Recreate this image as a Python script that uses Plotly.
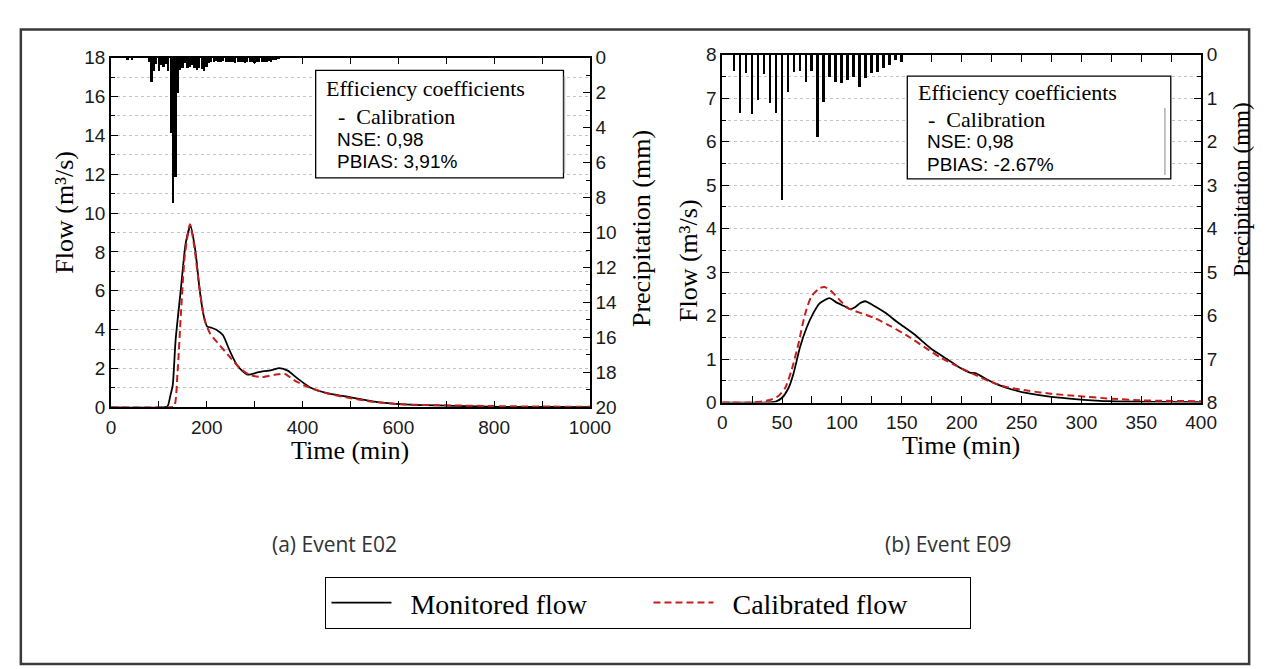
import plotly.graph_objects as go

W, H = 1269, 669
SERIF = "Liberation Serif, Times New Roman, serif"
SANS = "Liberation Sans, Arial, sans-serif"
CAPTION = "Open Sans, Noto Sans, sans-serif"
RED = "#c31f1c"

# ---------------------------------------------------------------------------
# Event E02 (left panel)
# ---------------------------------------------------------------------------
e02_rain_time = [35, 45, 80, 85, 90, 95, 100, 105, 110, 115, 120, 125, 130, 135, 140,
                 145, 150, 155, 160, 165, 170, 175, 180, 185, 190, 195, 200, 205, 210,
                 215, 220, 225, 230, 235, 240, 245, 250, 255, 260, 265, 270, 275, 280,
                 285, 290, 295, 300, 305, 310, 315, 320, 325, 330, 335, 340, 345, 350]
e02_rain_mm = [0.1, 0.1, 0.25, 1.4, 0.75, 0.35, 0.75, 0.4, 0.5, 0.35, 0.75, 4.3, 8.3, 6.8, 2.0,
               0.7, 0.55, 0.3, 0.55, 0.5, 0.4, 0.6, 0.7, 0.55, 0.65, 0.75, 0.5, 0.3, 0.2,
               0.25, 0.15, 0.2, 0.2, 0.15, 0.2, 0.25, 0.2, 0.25, 0.3, 0.2, 0.25, 0.2, 0.3,
               0.25, 0.2, 0.25, 0.3, 0.2, 0.25, 0.2, 0.25, 0.2, 0.15, 0.2, 0.1, 0.1, 0.05]

e02_obs_time = [0, 105, 118, 124, 129, 135, 146, 156, 166, 176, 185, 193, 201, 210, 220, 234,
                247, 264, 285, 308, 335, 352, 369, 390, 417, 451, 491, 546, 613, 715, 817, 919, 1000]
e02_obs_flow = [0, 0, 0.05, 0.6, 1.14, 3.47, 6.1, 8.44, 9.35, 8.1, 6.1, 4.79, 4.16, 4.1, 4.0, 3.71,
                2.97, 2.14, 1.69, 1.81, 1.92, 2.02, 1.89, 1.48, 1.01, 0.73, 0.56, 0.31, 0.15, 0.08,
                0.03, 0.02, 0.01]

e02_cal_time = [0, 120, 132, 139, 146, 154, 165, 174, 185, 196, 207, 227, 247, 268, 288, 315,
                342, 363, 383, 410, 451, 491, 546, 613, 715, 817, 919, 1000]
e02_cal_flow = [0, 0, 0.05, 1.8, 4.79, 7.77, 9.43, 8.27, 6.1, 4.46, 3.8, 3.2, 2.63, 2.05, 1.69,
                1.56, 1.68, 1.72, 1.39, 1.06, 0.72, 0.52, 0.29, 0.15, 0.1, 0.06, 0.04, 0.03]

# ---------------------------------------------------------------------------
# Event E09 (right panel)
# ---------------------------------------------------------------------------
e09_rain_time = [10, 15, 20, 25, 30, 35, 40, 45, 50, 55, 60, 65, 70, 75, 80, 85, 90, 95, 100,
                 105, 110, 115, 120, 125, 130, 135, 140, 145, 150]
e09_rain_mm = [0.36, 1.34, 0.42, 1.36, 1.04, 0.43, 1.10, 1.34, 3.33, 0.86, 0.39, 0.37, 0.62,
               0.36, 1.88, 1.08, 0.50, 0.62, 0.65, 0.58, 0.50, 0.73, 0.52, 0.42, 0.39, 0.30,
               0.24, 0.12, 0.17]

e09_obs_time = [0, 35, 44.6, 50, 55.5, 59.6, 65, 70.5, 76, 81.4, 89.5, 95, 101.8, 107, 111.3,
                115.4, 119.5, 126, 136, 146.8, 160.4, 174, 187.7, 198.6, 206.8, 212, 220.4,
                228.6, 242, 256, 275, 297, 324, 365, 400]
e09_obs_flow = [0, 0, 0.02, 0.11, 0.34, 0.67, 1.27, 1.72, 2.05, 2.28, 2.40, 2.31, 2.22, 2.15, 2.2,
                2.29, 2.33, 2.24, 2.07, 1.84, 1.57, 1.25, 1.0, 0.80, 0.69, 0.67, 0.54, 0.43, 0.30,
                0.21, 0.13, 0.075, 0.03, 0.015, 0.01]

e09_cal_time = [0, 24, 32, 40, 47, 52.7, 58, 63.6, 69, 74.5, 81.3, 85.5, 92, 99, 106, 116.8,
                127.7, 141, 155, 168.6, 182, 196, 209.5, 223, 237, 256, 275, 297, 324, 351, 400]
e09_cal_flow = [0, 0, 0.02, 0.06, 0.15, 0.34, 0.75, 1.34, 2.01, 2.44, 2.63, 2.66, 2.54, 2.33, 2.16,
                2.05, 1.94, 1.75, 1.53, 1.28, 1.04, 0.84, 0.66, 0.49, 0.36, 0.27, 0.20, 0.15,
                0.09, 0.05, 0.03]

box_lines = {
    "E02": ["Efficiency coefficients", "-\u00a0 Calibration", "NSE: 0,98", "PBIAS: 3,91%"],
    "E09": ["Efficiency coefficients", "-\u00a0 Calibration", "NSE: 0,98", "PBIAS: -2.67%"],
}


# pixel -> paper helpers
def xp(px):
    return px / W


def yp(py):
    return 1 - py / H


fig = go.Figure()

# Rain bars hanging from the top (reversed precipitation axes)
fig.add_trace(go.Bar(x=e02_rain_time, y=e02_rain_mm, xaxis="x", yaxis="y3", width=3.6,
                     marker=dict(color="black", line=dict(width=0)), showlegend=False))
fig.add_trace(go.Bar(x=e09_rain_time, y=e09_rain_mm, xaxis="x2", yaxis="y4", width=2.2,
                     marker=dict(color="black", line=dict(width=0)), showlegend=False))

# Flow lines
fig.add_trace(go.Scatter(x=e02_obs_time, y=e02_obs_flow, xaxis="x", yaxis="y", mode="lines",
                         line=dict(color="black", width=1.8, shape="spline", smoothing=0.6),
                         name="\u2002Monitored flow"))
fig.add_trace(go.Scatter(x=e02_cal_time, y=e02_cal_flow, xaxis="x", yaxis="y", mode="lines",
                         line=dict(color=RED, width=2, dash="7px,4px", shape="spline", smoothing=0.6),
                         name="\u2002Calibrated flow"))
fig.add_trace(go.Scatter(x=e09_obs_time, y=e09_obs_flow, xaxis="x2", yaxis="y2", mode="lines",
                         line=dict(color="black", width=1.8, shape="spline", smoothing=0.6),
                         showlegend=False))
fig.add_trace(go.Scatter(x=e09_cal_time, y=e09_cal_flow, xaxis="x2", yaxis="y2", mode="lines",
                         line=dict(color=RED, width=2, dash="7px,4px", shape="spline", smoothing=0.6),
                         showlegend=False))


def axis_style(**kw):
    base = dict(showline=True, linecolor="black", linewidth=1.5, ticks="inside", ticklen=7,
                tickwidth=1.3, tickcolor="black", showgrid=False, zeroline=False,
                tickfont=dict(family=SANS, size=19, color="#1a1a1a"))
    base.update(kw)
    return base


def minor_style(step, grid=False):
    m = dict(dtick=step, ticks="inside", ticklen=4, tickwidth=1.1, tickcolor="black", showgrid=grid)
    if grid:
        m.update(gridcolor="#c4c4c4", griddash="dot", gridwidth=1)
    return m


grid = dict(showgrid=True, gridcolor="#c4c4c4", griddash="dot", gridwidth=1)

left_dom = [xp(100), xp(589)]
right_dom = [xp(724), xp(1213)]
left_y = [yp(402), yp(41)]
right_y = [yp(397), yp(38)]

fig.update_layout(
    width=W, height=H,
    margin=dict(l=0, r=0, t=0, b=0),
    paper_bgcolor="white", plot_bgcolor="white",
    bargap=0,
    xaxis=axis_style(domain=left_dom, range=[0, 1000], dtick=200, anchor="y", mirror="allticks",
                     minor=minor_style(100), ticklabelstandoff=2),
    yaxis=axis_style(domain=left_y, range=[0, 18], dtick=2, anchor="x", minor=minor_style(1, True), **grid),
    yaxis3=axis_style(range=[20, 0], dtick=2, overlaying="y", side="right", anchor="x",
                      minor=minor_style(1)),
    xaxis2=axis_style(domain=right_dom, range=[0, 400], dtick=50, anchor="y2", mirror="allticks",
                      minor=minor_style(25), ticklabelstandoff=2),
    yaxis2=axis_style(domain=right_y, range=[0, 8], dtick=1, anchor="x2", minor=minor_style(0.5, True), **grid),
    yaxis4=axis_style(range=[8, 0], dtick=1, overlaying="y2", side="right", anchor="x2",
                      minor=minor_style(0.5)),
    legend=dict(orientation="h", x=xp(319), y=yp(577), xanchor="left", yanchor="top",
                bordercolor="black", borderwidth=1, bgcolor="white",
                font=dict(family=SERIF, size=28, color="black"),
                itemwidth=60, entrywidth=247, tracegroupgap=0),
)

annotations = []


def title(text, x, y, size=26, angle=0):
    annotations.append(dict(text=text, x=xp(x), y=yp(y), xref="paper", yref="paper", showarrow=False,
                            textangle=angle, xanchor="center", yanchor="middle",
                            font=dict(family=SERIF, size=size, color="black")))


# axis titles
title("Flow (m³/s)", 53, 200, angle=-90)
title("Precipitation (mm)", 641, 217, angle=-90)
title("Time (min)", 344, 446)
title("Flow (m³/s)", 689, 250, angle=-90)
title("Precipitation (mm)", 1254, 177, size=23, angle=-90)
title("Time (min)", 968, 441)

# captions
for txt, cx in [("(a) Event E02", 328), ("(b) Event E09", 955)]:
    annotations.append(dict(text=txt, x=xp(cx), y=yp(543), xref="paper", yref="paper", showarrow=False,
                            xanchor="center", yanchor="middle",
                            font=dict(family=CAPTION, size=21, color="#333333")))

# efficiency coefficient boxes
shapes = []
boxes = [("E02", (309, 54, 562, 165), [(318, 72.7), (330, 101.7), (329, 125), (329, 148.3)], (563, 60, 160)),
         ("E09", (913, 60, 1182, 166), [(921.7, 77.3), (931.7, 105), (930.7, 127.3), (930.7, 151.7)], (1176, 93, 162))]
for key, (x0, y0, x1, y1), pos, (gx, gy0, gy1) in boxes:
    shapes.append(dict(type="rect", xref="paper", yref="paper", x0=xp(x0), x1=xp(x1), y0=yp(y1), y1=yp(y0),
                       line=dict(color="black", width=1.3), fillcolor="white", layer="above"))
    shapes.append(dict(type="line", xref="paper", yref="paper", x0=xp(gx), x1=xp(gx), y0=yp(gy1), y1=yp(gy0),
                       line=dict(color="#b0b0b0", width=1.5), layer="above"))
    for i, (txt, (tx, ty)) in enumerate(zip(box_lines[key], pos)):
        fam, size = (SERIF, 22) if i < 2 else (SANS, 19)
        annotations.append(dict(text=txt, x=xp(tx), y=yp(ty), xref="paper", yref="paper", showarrow=False,
                                xanchor="left", yanchor="middle", font=dict(family=fam, size=size, color="black")))

# outer frame
shapes.append(dict(type="rect", xref="paper", yref="paper", x0=xp(8), x1=xp(1262), y0=yp(667), y1=yp(12),
                   line=dict(color="#3a3a3a", width=2.5), layer="below"))

fig.update_layout(annotations=annotations, shapes=shapes)

fig.write_html("out.html")
